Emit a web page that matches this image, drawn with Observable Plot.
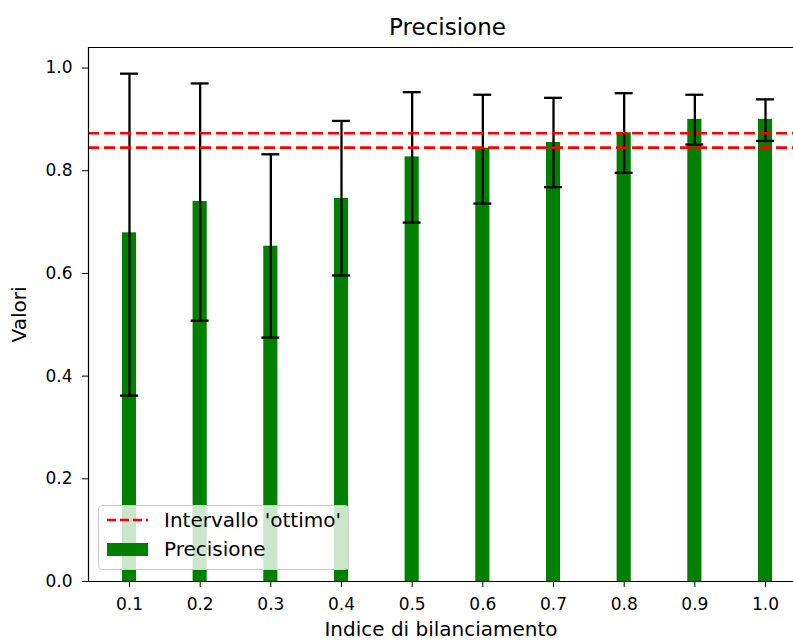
<!DOCTYPE html>
<html>
<head>
<meta charset="utf-8">
<script src="https://cdn.jsdelivr.net/npm/d3@7"></script>
<script src="https://cdn.jsdelivr.net/npm/@observablehq/plot@0.6"></script>
<style>
  html, body { margin: 0; padding: 0; background: #fff; }
  #wrap { position: relative; width: 793px; height: 641px; overflow: hidden; font-family: "DejaVu Sans", sans-serif; }
  #title { position: absolute; left: 88px; width: 719px; top: 12px; text-align: center; font-size: 23px; color: #000; line-height: 30px; }
  #legend { position: absolute; left: 98px; top: 505px; width: 251px; height: 65px; box-sizing: border-box;
            border: 1px solid #cccccc; border-radius: 4px; background: rgba(255,255,255,0.8); }
  #legend .row { position: absolute; left: 8px; height: 28px; display: flex; align-items: center; font-size: 20px; color: #000; }
  #legend svg { margin-right: 16px; }
</style>
</head>
<body>
<div id="wrap">
  <div id="chart"></div>
  <div id="title">Precisione</div>
  <div id="legend"></div>
</div>
<script>
// ---- data ----
const indici = [0.1, 0.2, 0.3, 0.4, 0.5, 0.6, 0.7, 0.8, 0.9, 1.0];
const precisione = [0.679, 0.740, 0.653, 0.746, 0.827, 0.844, 0.855, 0.874, 0.900, 0.900];
const errLow  = [0.362, 0.508, 0.475, 0.596, 0.699, 0.736, 0.768, 0.796, 0.851, 0.858];
const errHigh = [0.989, 0.970, 0.832, 0.897, 0.953, 0.948, 0.942, 0.951, 0.948, 0.939];
const intervalloOttimo = [0.845, 0.873];
const xTicks = [0.1, 0.2, 0.3, 0.4, 0.5, 0.6, 0.7, 0.8, 0.9, 1.0];
const yTicks = [0.0, 0.2, 0.4, 0.6, 0.8, 1.0];
const titolo = "Precisione";
const xLabel = "Indice di bilanciamento";
const yLabel = "Valori";
const legendLabels = ["Intervallo 'ottimo'", "Precisione"];

// ---- config ----
const xDomain = [0.042, 1.0396];
const yDomain = [0, 1.04];
const barHalf = 0.01;
const capHalf = 0.0127;

const data = indici.map((x, i) => ({x, v: precisione[i], lo: errLow[i], hi: errHigh[i]}));

const chart = Plot.plot({
  width: 793,
  height: 641,
  marginLeft: 88,
  marginRight: 0,
  marginTop: 47,
  marginBottom: 60,
  style: {fontFamily: "DejaVu Sans, sans-serif", fontSize: "17px", color: "#000", background: "transparent"},
  x: {domain: xDomain, ticks: xTicks, tickFormat: d3.format(".1f")},
  y: {domain: yDomain, ticks: yTicks, tickFormat: d3.format(".1f")},
  marks: [
    Plot.rectY(data, {x1: d => d.x - barHalf, x2: d => d.x + barHalf, y1: 0, y2: "v", fill: "#008000"}),
    Plot.ruleX(data, {x: "x", y1: "lo", y2: "hi", stroke: "#000", strokeWidth: 2.3}),
    Plot.ruleY(data, {y: "lo", x1: d => d.x - capHalf, x2: d => d.x + capHalf, stroke: "#000", strokeWidth: 2.3}),
    Plot.ruleY(data, {y: "hi", x1: d => d.x - capHalf, x2: d => d.x + capHalf, stroke: "#000", strokeWidth: 2.3}),
    Plot.ruleY(intervalloOttimo, {stroke: "red", strokeWidth: 2.6, strokeDasharray: "11,5"}),
    Plot.ruleY([yDomain[0]], {stroke: "#000", strokeWidth: 1.2}),
    Plot.ruleY([yDomain[1]], {stroke: "#000", strokeWidth: 1.2}),
    Plot.ruleX([xDomain[0]], {stroke: "#000", strokeWidth: 1.2}),
    Plot.axisX({ticks: xTicks, tickFormat: d3.format(".1f"), tickSize: 6, tickPadding: 10, label: xLabel, labelAnchor: "center", labelArrow: "none", labelOffset: 54, fontSize: 17}),
    Plot.axisY({ticks: yTicks, tickFormat: d3.format(".1f"), tickSize: 6, tickPadding: 10, label: yLabel, labelAnchor: "center", labelArrow: "none", labelOffset: 77, fontSize: 17})
  ]
});
document.getElementById("chart").appendChild(chart);

// label font sizes
chart.querySelectorAll("[aria-label='x-axis label'] text, [aria-label='y-axis label'] text").forEach(t => t.setAttribute("font-size", "20px"));

// ---- legend ----
const leg = document.getElementById("legend");
const row1 = document.createElement("div");
row1.className = "row"; row1.style.top = "0px";
row1.innerHTML = `<svg width="41" height="10"><line x1="0" x2="41" y1="5" y2="5" stroke="red" stroke-width="2.6" stroke-dasharray="9,4"/></svg>`;
row1.appendChild(document.createTextNode(legendLabels[0]));
const row2 = document.createElement("div");
row2.className = "row"; row2.style.top = "29px";
row2.innerHTML = `<svg width="41" height="13"><rect x="0" y="0" width="41" height="13" fill="#008000"/></svg>`;
row2.appendChild(document.createTextNode(legendLabels[1]));
leg.appendChild(row1); leg.appendChild(row2);
</script>
</body>
</html>
